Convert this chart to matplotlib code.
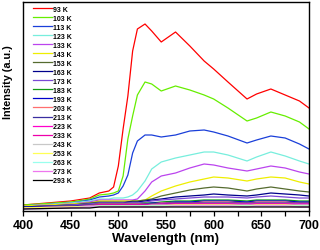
import numpy as np
import matplotlib.pyplot as plt

plt.rcParams['font.family'] = ['Liberation Sans', 'DejaVu Sans']
plt.rcParams['font.weight'] = 'bold'

wavelength = [400, 450, 470, 480, 490, 495, 500, 505, 510, 515, 520, 528, 535,
              545, 560, 575, 590, 600, 615, 635, 645, 660, 675, 690, 700]

temps = ['93 K', '103 K', '113 K', '123 K', '133 K', '143 K', '153 K', '163 K',
         '173 K', '183 K', '193 K', '203 K', '213 K', '223 K', '233 K', '243 K',
         '253 K', '263 K', '273 K', '293 K']

colors = ['#ff0000', '#66ee00', '#1a3fd9', '#77eedd', '#bb44ee', '#eeee00',
          '#556b2f', '#00008b', '#7b49d6', '#119911', '#0000cc', '#ff6f6f',
          '#3a2ea0', '#ff00cc', '#ee00aa', '#c8c8c8', '#ffff55', '#99ffee',
          '#ee77ee', '#000000']

i93 = [6, 10, 13, 18, 20, 24, 45, 82, 115, 160, 182, 187, 180, 169, 179, 165, 150, 142, 129, 112, 117, 122, 116, 110, 103]
i103 = [6, 9, 12, 16, 17, 18, 20, 35, 72, 95, 116, 129, 127, 120, 125, 121, 116, 112, 103, 90, 93, 99, 95, 89, 82]
i113 = [5, 8, 11, 14, 15, 16, 18, 25, 36, 58, 70, 76, 76, 74, 76, 80, 81, 79, 75, 68, 71, 75, 73, 67, 62]
i123 = [5, 8, 10, 12, 12, 13, 13, 13, 14, 16, 20, 30, 42, 49, 53, 56, 59, 59, 56, 50, 54, 59, 55, 50, 47]
i133 = [5, 7, 9, 11, 11, 11, 11, 11, 11, 11, 12, 20, 29, 35, 38, 43, 47, 46, 43, 40, 42, 45, 43, 39, 37]
i143 = [5, 7, 8, 10, 10, 10, 10, 10, 10, 10, 10, 11, 15, 20, 25, 29, 32, 34, 33, 30, 32, 34, 33, 29, 27]
i153 = [4, 6, 8, 9, 9, 9, 9, 9, 9, 10, 10, 11, 12, 15, 18, 21, 23, 24, 23, 20, 22, 24, 22, 20, 19]
i163 = [4, 6, 7, 8, 8, 8, 8, 8, 9, 9, 9, 10, 11, 12, 14, 15, 16, 17, 16, 15, 16, 18, 17, 16, 15]
i173 = [4, 6, 7, 8, 8, 8, 8, 8, 8, 8, 8, 9, 10, 11, 12, 13, 14, 14, 14, 13, 14, 15, 14, 13, 13]
i183 = [4, 5, 6, 7, 7, 7, 7, 7, 7, 7, 7, 8, 8, 9, 10, 10, 11, 11, 11, 10, 11, 11, 11, 10, 10]
i193 = [4, 5, 6, 7, 7, 7, 7, 7, 7, 7, 7, 7, 8, 8, 9, 9, 10, 10, 10, 9, 10, 10, 10, 9, 9]
i203 = [3, 5, 6, 7, 7, 7, 7, 7, 7, 7, 7, 7, 7, 8, 8, 8, 9, 9, 9, 8, 9, 9, 9, 8, 8]
i213 = [3, 5, 6, 6, 6, 6, 6, 6, 6, 6, 6, 7, 7, 7, 8, 8, 8, 8, 8, 8, 8, 8, 8, 8, 8]
i223 = [3, 4, 5, 6, 6, 6, 6, 6, 6, 6, 6, 6, 6, 7, 7, 7, 7, 7, 7, 7, 7, 7, 7, 7, 7]
i233 = [3, 4, 5, 6, 6, 6, 6, 6, 6, 6, 6, 6, 6, 6, 7, 7, 7, 7, 7, 6, 7, 7, 7, 6, 6]
i243 = [3, 4, 5, 5, 5, 5, 5, 5, 5, 5, 5, 5, 6, 6, 6, 6, 6, 6, 6, 6, 6, 6, 6, 6, 6]
i253 = [3, 4, 4, 5, 5, 5, 5, 5, 5, 5, 5, 5, 5, 5, 6, 6, 6, 6, 6, 5, 6, 6, 6, 5, 5]
i263 = [2, 3, 4, 5, 5, 5, 5, 5, 5, 5, 5, 5, 5, 5, 5, 5, 5, 5, 5, 5, 5, 5, 5, 5, 5]
i273 = [2, 3, 4, 4, 4, 4, 4, 4, 4, 4, 4, 4, 4, 4, 5, 5, 5, 5, 5, 4, 5, 5, 5, 4, 4]
i293 = [2, 3, 3, 4, 4, 4, 4, 4, 4, 4, 4, 4, 4, 4, 4, 4, 4, 4, 4, 4, 4, 4, 4, 4, 4]

spectra = [i93, i103, i113, i123, i133, i143, i153, i163, i173, i183, i193,
           i203, i213, i223, i233, i243, i253, i263, i273, i293]

fig = plt.figure(figsize=(3.2, 2.51), dpi=100)
ax = fig.add_axes([23/320, 1 - 212/251, 286/320, 209/251])

for lab, col, y in zip(temps, colors, spectra):
    ax.plot(wavelength, y, color=col, lw=0.9, label=lab)

ax.set_xlim(400, 700)
ax.set_ylim(0, 209)
ax.set_yticks([])
ax.set_xticks([400, 450, 500, 550, 600, 650, 700])
ax.set_xticks([425, 475, 525, 575, 625, 675], minor=True)
ax.tick_params(axis='x', which='both', direction='out', length=3.5, width=0.9,
               labelsize=9, pad=2)
for s in ax.spines.values():
    s.set_linewidth(1.0)

ax.set_xlabel('Wavelength (nm)', fontsize=9.6, fontweight='bold', labelpad=1)
ax.set_ylabel('Intensity (a.u.)', fontsize=7.8, fontweight='bold', labelpad=4)
ax.yaxis.set_label_coords(-0.035, 0.62)

leg = ax.legend(loc='upper left', frameon=False, fontsize=5,
                handlelength=2.7, handletextpad=0.15, labelspacing=0.29,
                borderaxespad=0.0, bbox_to_anchor=(7.5/286, 1 - 1/209))

fig.savefig('out.png', dpi=100)
